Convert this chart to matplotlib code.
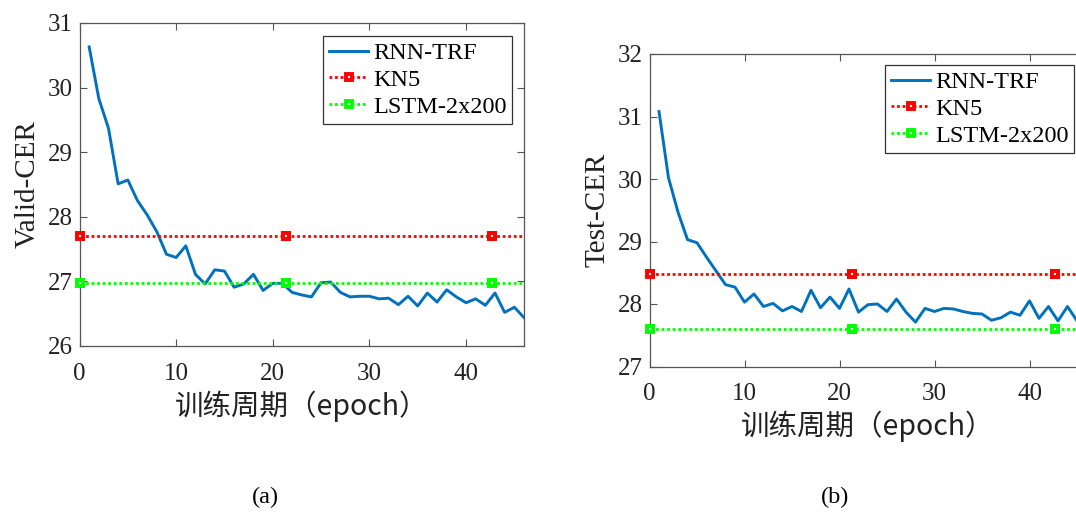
import numpy as np
import matplotlib
matplotlib.use('Agg')
import matplotlib.pyplot as plt

# données
epochs = np.arange(1, 47)
valid_rnn = [30.63, 29.83, 29.37, 28.51, 28.57, 28.25, 28.03, 27.77, 27.42, 27.37,
             27.55, 27.11, 26.96, 27.18, 27.16, 26.91, 26.96, 27.11, 26.86, 26.97,
             26.97, 26.83, 26.79, 26.76, 26.98, 26.99, 26.83, 26.76, 26.77, 26.77,
             26.73, 26.74, 26.64, 26.77, 26.62, 26.82, 26.68, 26.87, 26.76, 26.67,
             26.73, 26.63, 26.82, 26.52, 26.60, 26.44]
test_rnn = [31.08, 30.02, 29.47, 29.03, 28.98, 28.75, 28.53, 28.31, 28.27, 28.03,
            28.16, 27.96, 28.01, 27.89, 27.96, 27.88, 28.22, 27.94, 28.11, 27.93,
            28.24, 27.87, 27.99, 28.00, 27.88, 28.08, 27.87, 27.71, 27.93, 27.88,
            27.93, 27.92, 27.88, 27.85, 27.84, 27.74, 27.78, 27.87, 27.82, 28.05,
            27.77, 27.96, 27.73, 27.96, 27.73, 27.82]
ref_x = [0, 21.33, 42.67, 64]
valid_kn5 = 27.70
valid_lstm = 26.98
test_kn5 = 28.48
test_lstm = 27.60

serif = 'Liberation Serif'
cjk = ['Noto Sans CJK SC', 'DejaVu Sans']
blue = '#0072BD'
spine_col = '#555555'

fig = plt.figure(figsize=(10.76, 5.13), dpi=100)

def panel(rect, rnn, kn5, lstm, ylim, ylabel, leg_pos, sub, sub_pos):
    ax = fig.add_axes(rect)
    ax.plot(epochs, rnn, '-', color=blue, lw=2.1, label='RNN-TRF')
    for val, col, lab in [(kn5, '#FF0000', 'KN5'), (lstm, '#00FF00', 'LSTM-2x200')]:
        ax.plot(ref_x, [val] * len(ref_x), color=col, ls=(0, (1, 1)), lw=2.0,
                marker='s', ms=4.2, mew=2.8, mfc='white', mec=col, label=lab)
        # marqueurs non coupés par le bord de l'axe
        ax.plot(ref_x[:3], [val] * 3, ls='none', marker='s', ms=4.2, mew=2.8,
                mfc='white', mec=col, clip_on=False, zorder=5)
    ax.set_xlim(0, 46)
    ax.set_ylim(*ylim)
    ax.set_xticks([0, 10, 20, 30, 40])
    ax.set_yticks(np.arange(ylim[0], ylim[1] + 1))
    ax.tick_params(direction='in', top=True, right=True, length=5, width=0.8,
                   colors=spine_col, labelcolor='#222222', labelsize=18)
    ax.tick_params(axis='x', pad=12)
    ax.tick_params(axis='y', pad=5)
    for lab in ax.get_xticklabels() + ax.get_yticklabels():
        lab.set_family(serif)
    for s in ax.spines.values():
        s.set_color(spine_col)
        s.set_linewidth(0.9)
    ax.set_ylabel(ylabel, family=serif, fontsize=21, color='#222222', labelpad=5)
    ax.set_xlabel('训练周期（epoch）', family=cjk, fontsize=20.5, color='#222222', labelpad=4)
    leg = ax.legend(loc='upper left', bbox_to_anchor=leg_pos, bbox_transform=fig.transFigure,
                    borderaxespad=0, prop={'family': serif, 'size': 17.5}, fancybox=False,
                    handlelength=1.6, handletextpad=0.2, labelspacing=0.2,
                    borderpad=0.25, framealpha=1)
    leg.get_frame().set_edgecolor('#333333')
    leg.get_frame().set_linewidth(0.9)
    fig.text(sub_pos[0], sub_pos[1], sub, family=serif, fontsize=17.5, ha='center', va='center')
    return ax

panel([79.5 / 1076, 1 - 346 / 513, 444.5 / 1076, 323 / 513], valid_rnn, valid_kn5, valid_lstm,
      (26, 31), 'Valid-CER', (323 / 1076, 1 - 36 / 513), '(a)', (265 / 1076, 1 - 497 / 513))
panel([649.5 / 1076, 1 - 366.5 / 513, 437 / 1076, 312.5 / 513], test_rnn, test_kn5, test_lstm,
      (27, 32), 'Test-CER', (885 / 1076, 1 - 65 / 513), '(b)', (835 / 1076, 1 - 497 / 513))

plt.savefig('out.png', dpi=100)
